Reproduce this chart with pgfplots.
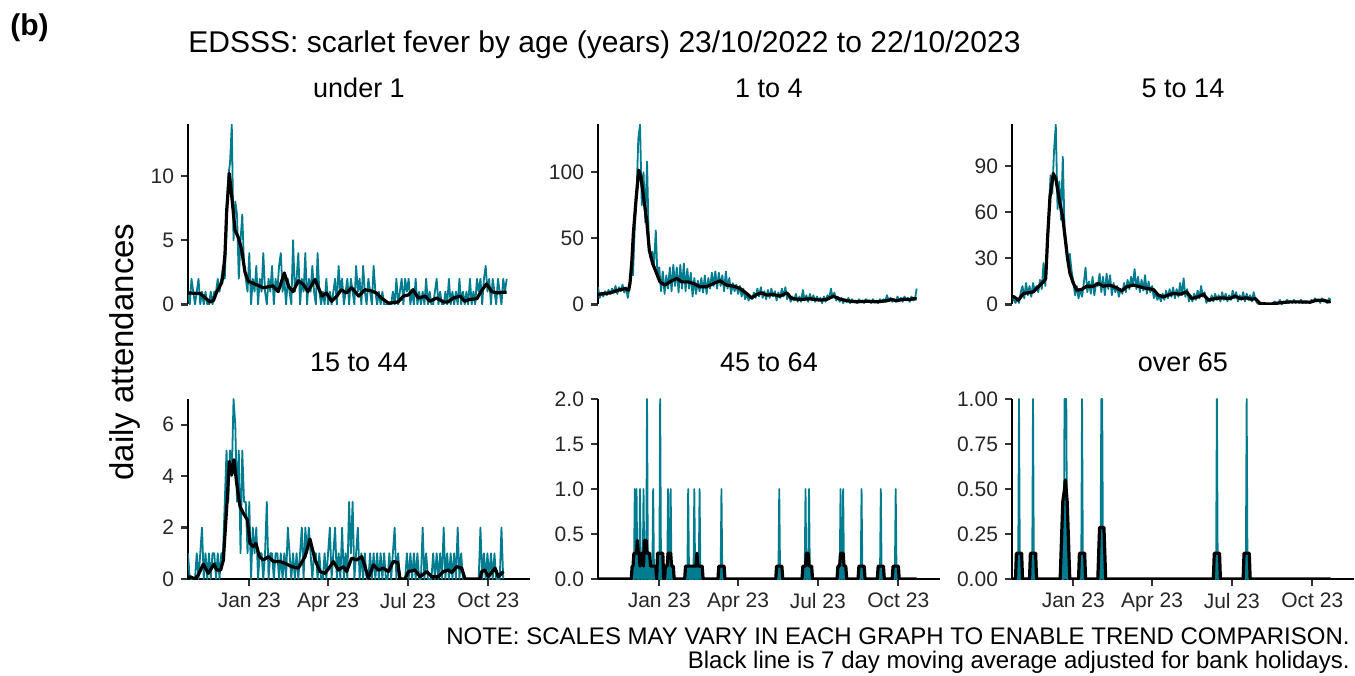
\documentclass[border=0pt]{standalone}
\usepackage{fontspec}
\setmainfont{Liberation Sans}
\usepackage{pgfplots}
\pgfplotsset{compat=1.18}
\definecolor{tealc}{HTML}{007C91}
\definecolor{tickc}{HTML}{333333}
\pgfplotsset{
  panel/.style={
    scale only axis, width=171pt, height=90pt,
    xmin=-70, xmax=320.6, ymin=0,
    axis y line*=left,
    axis line style={line width=1.4pt, black},
    tick style={line width=1.1pt, color=tickc},
    tick align=outside, major tick length=3.5pt,
    minor tick num=0,
    tick label style={font=\fontsize{10.5}{12}\selectfont, text=black!85},
    title style={font=\fontsize{13.5}{16}\selectfont, at={(0.5,1)}, anchor=center, yshift=12.25pt},
  },
  toprow/.style={panel, axis x line=none},
  botrow/.style={panel, axis x line*=bottom, xtick={0,90,181,273}, xticklabels={Jan 23,Apr 23,Jul 23,Oct 23}},
  tealline/.style={tealc, line width=0.9pt, line join=round},
  maline/.style={black, line width=1.6pt, line join=round},
}
\begin{document}
\begin{tikzpicture}
\useasboundingbox (0,0) rectangle (677.5pt,337.5pt);
\node[anchor=west, inner sep=0pt, font=\bfseries\fontsize{15}{18}\selectfont] at (5pt,323.5pt) {(b)};
\node[anchor=west, inner sep=0pt, font=\fontsize{15}{18}\selectfont] at (94pt,315pt) {EDSSS: scarlet fever by age (years) 23/10/2022 to 22/10/2023};
\node[rotate=90, inner sep=0pt, font=\fontsize{16.5}{20}\selectfont] at (62.5pt,161.5pt) {daily attendances};
\node[anchor=east, inner sep=0pt, font=\fontsize{12}{14}\selectfont] at (675pt,19.5pt) {NOTE: SCALES MAY VARY IN EACH GRAPH TO ENABLE TREND COMPARISON.};
\node[anchor=east, inner sep=0pt, font=\fontsize{12}{14}\selectfont] at (675pt,6.5pt) {Black line is 7 day moving average adjusted for bank holidays.};

% ---------------- under 1 ----------------
\begin{axis}[toprow, at={(94pt,185.25pt)}, anchor=south west, ymax=14,
  ytick={0,5,10}, yticklabels={0,5,10}, title={under 1}]
\addplot[tealline] coordinates {(-70,1)(-68,0)(-66,2)(-64,1)(-62,0)(-60,1)(-58,2)(-56,0)(-54,1)(-52,0)(-50,1)(-48,0)(-46,0)(-44,1)(-42,0)(-40,1)(-38,1)(-36,2)(-34,1)(-32,2)(-30,3)(-28,2)(-26,6)(-24,10)(-22,11)(-20,14)(-18,5)(-16,8)(-14,7)(-12,2)(-10,5)(-8,7)(-6,3)(-4,2)(-2,1)(0,4)(2,0)(4,2)(6,1)(8,3)(10,0)(12,2)(14,1)(16,4)(18,1)(20,0)(22,2)(24,1)(26,3)(28,0)(30,2)(32,1)(34,3)(36,4)(38,1)(40,2)(42,0)(44,2)(46,1)(48,0)(50,5)(52,1)(54,2)(56,4)(58,0)(60,2)(62,1)(64,4)(66,0)(68,2)(70,1)(72,3)(74,1)(76,0)(78,4)(80,1)(82,0)(84,1)(86,0)(88,2)(90,0)(92,1)(94,0)(96,1)(98,2)(100,0)(102,3)(104,1)(106,2)(108,0)(110,1)(112,2)(114,0)(116,2)(118,1)(120,0)(122,3)(124,1)(126,2)(128,0)(130,3)(132,1)(134,0)(136,2)(138,1)(140,0)(142,3)(144,1)(146,0)(148,1)(150,0)(152,1)(154,0)(156,0)(158,0)(160,0)(162,0)(164,1)(166,0)(168,2)(170,0)(172,1)(174,2)(176,0)(178,2)(180,1)(182,2)(184,0)(186,1)(188,0)(190,2)(192,0)(194,1)(196,0)(198,1)(200,0)(202,2)(204,0)(206,1)(208,0)(210,0)(212,1)(214,2)(216,0)(218,1)(220,0)(222,0)(224,1)(226,0)(228,2)(230,0)(232,1)(234,0)(236,1)(238,0)(240,2)(242,0)(244,1)(246,0)(248,1)(250,0)(252,2)(254,0)(256,1)(258,0)(260,2)(262,1)(264,2)(266,0)(268,2)(270,3)(272,1)(274,2)(276,0)(278,2)(280,1)(282,0)(284,2)(286,1)(288,0)(290,2)(292,1)(294,2)};
\addplot[maline] coordinates {(-70,0.9)(-56,0.85)(-45,0.2)(-41,0.3)(-37,1.0)(-31.5,1.7)(-29.6,2.45)(-27.7,4.0)(-25.8,7.3)(-22.8,10.2)(-20,8.4)(-16.3,5.8)(-12.5,5.2)(-8.7,4.25)(-4.9,2.5)(-1,1.8)(8,1.55)(16,1.3)(27,1.45)(33,1.0)(40,2.45)(45,1.4)(50,1.0)(56,1.85)(62,1.55)(67,1.0)(75,1.95)(83,0.65)(88,0.9)(94,0.25)(100,0.65)(105,1.15)(111,0.9)(117,1.3)(125,0.65)(132,1.15)(140,1.05)(145,0.9)(151,0.5)(159,0.1)(170,0.2)(176,0.65)(182,0.75)(187,1.15)(193,0.5)(201,0.65)(206,0.25)(214,0.5)(222,0.2)(227,0.2)(233,0.5)(241,0.65)(246,0.25)(252,0.4)(260,0.45)(265,1.05)(271,1.6)(277,1.0)(283,0.9)(289,0.95)(294,0.95)};
\end{axis}

% ---------------- 1 to 4 ----------------
\begin{axis}[toprow, at={(299pt,185.25pt)}, anchor=south west, ymax=136,
  ytick={0,50,100}, yticklabels={0,50,100}, title={1 to 4}]
\addplot[tealline] coordinates {(-70,13)(-68,5)(-66,9)(-64,6)(-62,10)(-60,7)(-58,11)(-56,8)(-54,12)(-52,9)(-50,14)(-48,8)(-46,13)(-44,10)(-42,15)(-40,9)(-38,13)(-36,5)(-34,14)(-32,26)(-30,22)(-28,60)(-26,82)(-24,125)(-22,136)(-20,75)(-18,100)(-16,62)(-14,108)(-12,48)(-10,35)(-8,40)(-6,30)(-4,56)(-2,20)(0,28)(2,10)(4,25)(6,8)(8,22)(10,12)(12,28)(14,10)(16,30)(18,14)(20,28)(22,9)(24,30)(26,12)(28,31)(30,10)(32,27)(34,12)(36,24)(38,6)(40,20)(42,8)(44,18)(46,10)(48,20)(50,9)(52,22)(54,8)(56,20)(58,12)(60,24)(62,14)(64,25)(66,12)(68,24)(70,14)(72,22)(74,10)(76,25)(78,12)(80,20)(82,8)(84,16)(86,10)(88,15)(90,8)(92,14)(94,6)(96,12)(98,4)(100,8)(102,3)(104,6)(106,4)(108,9)(110,5)(112,12)(114,6)(116,13)(118,5)(120,10)(122,4)(124,11)(126,5)(128,12)(130,6)(132,10)(134,3)(136,9)(138,5)(140,12)(142,6)(144,13)(146,4)(148,8)(150,2)(152,6)(154,3)(156,8)(158,2)(160,6)(162,2)(164,11)(166,3)(168,7)(170,2)(172,8)(174,3)(176,7)(178,2)(180,6)(182,3)(184,5)(186,1)(188,6)(190,2)(192,7)(194,4)(196,12)(198,5)(200,9)(202,3)(204,6)(206,2)(208,5)(210,1)(212,4)(214,2)(216,5)(218,1)(220,4)(222,2)(224,3)(226,1)(228,4)(230,2)(232,3)(234,1)(236,4)(238,2)(240,3)(242,1)(244,4)(246,2)(248,3)(250,1)(252,4)(254,2)(256,4)(258,2)(260,7)(262,3)(264,5)(266,2)(268,4)(270,2)(272,6)(274,3)(276,5)(278,2)(280,6)(282,3)(284,5)(286,2)(288,6)(290,3)(292,4)(294,12)};
\addplot[maline] coordinates {(-70,7.8)(-68,7.8)(-56,8.8)(-47,10.8)(-39,12)(-35,10.8)(-33.5,15.9)(-31.5,31)(-29.6,53.7)(-26.6,78.9)(-23.5,101.5)(-21,96.5)(-17.5,78.9)(-14.4,63.7)(-11.4,41)(-7.6,31)(-3,23.4)(0.8,17.1)(6.5,14.6)(12,17.1)(20,19.7)(25.6,17.1)(33,17.1)(39,15.9)(46.5,13.4)(54,13.4)(61.7,15.9)(69.3,17.9)(77,14.6)(84.6,13.9)(92.2,12.1)(99.8,8.3)(105.5,5)(111.2,7.6)(117,8.8)(122.7,7.1)(130.3,7.6)(137.9,6.3)(145.5,8.8)(151.2,4.5)(160.7,3.8)(172,4.3)(183.6,3.3)(191,3.8)(198.8,6.3)(204.5,4.5)(214,2.8)(225.4,2)(237,2.5)(248.3,2)(259.7,2.8)(265.4,3.8)(271,2.8)(278.8,4)(286.4,3.8)(291,4.5)(294,4.2)};
\end{axis}

% ---------------- 5 to 14 ----------------
\begin{axis}[toprow, at={(506pt,185.25pt)}, anchor=south west, ymax=117,
  ytick={0,30,60,90}, yticklabels={0,30,60,90}, title={5 to 14}]
\addplot[tealline] coordinates {(-70,6)(-68,3)(-66,1)(-64,4)(-62,1)(-60,8)(-58,12)(-56,4)(-54,14)(-52,6)(-50,12)(-48,5)(-46,14)(-44,9)(-42,12)(-40,8)(-38,16)(-36,10)(-34,27)(-32,12)(-30,30)(-28,60)(-26,84)(-24,72)(-22,100)(-20,117)(-18,62)(-16,80)(-14,55)(-12,96)(-10,50)(-8,40)(-6,25)(-4,33)(-2,22)(0,15)(2,6)(4,12)(6,4)(8,10)(10,5)(12,14)(14,24)(16,8)(18,15)(20,7)(22,18)(24,6)(26,14)(28,12)(30,20)(32,8)(34,18)(36,6)(38,20)(40,10)(42,19)(44,6)(46,14)(48,8)(50,12)(52,5)(54,10)(56,7)(58,14)(60,8)(62,16)(64,10)(66,18)(68,12)(70,23)(72,10)(74,18)(76,8)(78,16)(80,9)(82,19)(84,7)(86,15)(88,8)(90,12)(92,4)(94,8)(96,3)(98,6)(100,2)(102,7)(104,3)(106,9)(108,4)(110,10)(112,5)(114,11)(116,4)(118,10)(120,5)(122,14)(124,6)(126,17)(128,5)(130,10)(132,2)(134,6)(136,2)(138,7)(140,3)(142,9)(144,4)(146,12)(148,5)(150,8)(152,1)(154,4)(156,2)(158,6)(160,2)(162,7)(164,3)(166,6)(168,2)(170,8)(172,3)(174,7)(176,2)(178,6)(180,3)(182,9)(184,4)(186,8)(188,2)(190,6)(192,3)(194,8)(196,2)(198,7)(200,3)(202,6)(204,2)(206,8)(208,3)(210,1)(212,0)(214,1)(216,0)(218,1)(220,0)(222,0)(224,1)(226,0)(228,1)(230,2)(232,0)(234,1)(236,3)(238,0)(240,2)(242,1)(244,3)(246,1)(248,2)(250,1)(252,3)(254,1)(256,2)(258,1)(260,3)(262,1)(264,2)(266,1)(268,2)(270,1)(272,3)(274,2)(276,4)(278,2)(280,3)(282,1)(284,4)(286,2)(288,3)(290,1)(292,4)(294,3)};
\addplot[maline] coordinates {(-70,5)(-67.7,5)(-62.8,2.8)(-57,7.2)(-51.3,7.6)(-45.6,8.2)(-40,11.5)(-34.2,14.7)(-31.5,16.9)(-29.3,44)(-26.6,70)(-22.8,85.2)(-19.7,80.9)(-16,67.9)(-12.1,57)(-9.5,44)(-6.8,31)(-3.8,20.2)(0.1,13.7)(3.9,9.3)(9.6,9.8)(15.3,11.9)(22.9,11.9)(28.6,13.7)(34.3,11.9)(41.9,12.6)(49.6,10.8)(55.3,8.9)(61,11.5)(68.6,12.6)(76.2,11.5)(83.8,10.4)(91.4,9.8)(97.1,6.1)(102.9,5)(108.6,6.1)(114.3,7.2)(121.9,6.7)(129.5,8.2)(135.2,3.9)(142.8,5)(148.5,6.7)(154.3,2.8)(161.9,3.9)(169.5,4.3)(179,3.9)(184.7,5.4)(190.4,3.9)(198,4.3)(203.7,3.3)(207.6,3.9)(213.3,0.7)(224.7,0.2)(236.1,1.1)(247.5,1.7)(259,1.7)(270.4,1.5)(278,2.8)(285.6,2.8)(291.3,1.7)(294,2)};
\end{axis}

% ---------------- 15 to 44 ----------------
\begin{axis}[botrow, at={(94pt,48pt)}, anchor=south west, ymax=7,
  ytick={0,2,4,6}, yticklabels={0,2,4,6}, title={15 to 44}]
\addplot[tealline] coordinates {(-70,1)(-68,0)(-66,0)(-64,0)(-62,0)(-60,1)(-58,0)(-56,1)(-54,2)(-52,0)(-50,1)(-48,0)(-46,1)(-44,0)(-42,1)(-40,1)(-38,0)(-36,1)(-34,0)(-32,1)(-30,1)(-28,3)(-26,5)(-24,3)(-22,5)(-20,4)(-18,7)(-16,6)(-14,3)(-12,5)(-10,1)(-8,5)(-6,3)(-4,3)(-2,1)(0,3)(2,0)(4,2)(6,1)(8,2)(10,0)(12,1)(14,1)(16,0)(18,1)(20,3)(22,0)(24,1)(26,1)(28,0)(30,1)(32,1)(34,0)(36,1)(38,0)(40,1)(42,0)(44,2)(46,1)(48,0)(50,1)(52,0)(54,1)(56,0)(58,1)(60,2)(62,0)(64,2)(66,1)(68,2)(70,1)(72,0)(74,1)(76,1)(78,0)(80,1)(82,0)(84,0)(86,1)(88,0)(90,1)(92,2)(94,0)(96,1)(98,2)(100,0)(102,1)(104,0)(106,2)(108,0)(110,1)(112,0)(114,3)(116,1)(118,3)(120,0)(122,1)(124,2)(126,0)(128,1)(130,0)(132,1)(134,0)(136,0)(138,1)(140,0)(142,1)(144,0)(146,1)(148,0)(150,1)(152,0)(154,1)(156,0)(158,0)(160,1)(162,0)(164,1)(166,2)(168,0)(170,1)(172,0)(174,0)(176,0)(178,0)(180,1)(182,0)(184,1)(186,0)(188,1)(190,0)(192,1)(194,0)(196,0)(198,2)(200,0)(202,1)(204,0)(206,0)(208,0)(210,1)(212,0)(214,1)(216,0)(218,1)(220,0)(222,2)(224,0)(226,1)(228,0)(230,1)(232,0)(234,1)(236,0)(238,2)(240,0)(242,1)(244,0)(246,0)(248,0)(250,0)(252,0)(254,0)(256,0)(258,0)(260,0)(262,0)(264,2)(266,0)(268,1)(270,0)(272,1)(274,0)(276,1)(278,0)(280,1)(282,0)(284,0)(286,0)(288,2)(290,0)};
\addplot[maline] coordinates {(-70,0)(-67.7,0.09)(-62,0)(-58.2,0.16)(-52.5,0.58)(-46.8,0.22)(-40.3,0.58)(-37.3,0.35)(-32.7,0.35)(-29.6,0.74)(-25.8,2.8)(-22.8,4.57)(-20.1,4.05)(-17.5,4.64)(-14.4,3.73)(-10.6,2.82)(-6.8,2.56)(-2.2,2.3)(0.8,1.39)(4.6,1.26)(7.7,1.39)(11.5,0.87)(16,0.74)(21.8,0.87)(27.5,0.68)(35.1,0.68)(40.8,0.61)(48.4,0.48)(56,0.42)(63.6,0.87)(69.3,1.55)(75.1,0.74)(80.8,0.29)(86.5,0.22)(92.2,0.48)(96,0.68)(101.7,0.35)(107.4,0.48)(111.2,0.29)(116.9,0.81)(122.7,0.74)(128.4,0.87)(132.2,0.48)(136,0.03)(141.7,0.55)(147.4,0.35)(153.1,0.42)(158.8,0.29)(164.5,0.68)(169.5,0.64)(172.1,0)(177.9,0)(181.7,0.29)(189.3,0.35)(195,0.09)(202.6,0.29)(208.3,0.09)(215.9,0.09)(221.6,0.29)(227.4,0.35)(231.2,0.25)(236.9,0.48)(242.6,0.42)(246.4,0)(263.5,0)(265.4,0.29)(269.2,0.35)(273,0.09)(280.7,0.42)(284.5,0.09)(290.2,0.29)};
\end{axis}

% ---------------- 45 to 64 ----------------
\begin{axis}[botrow, at={(299pt,48pt)}, anchor=south west, ymax=2,
  ytick={0,0.5,1,1.5,2}, yticklabels={0.0,0.5,1.0,1.5,2.0}, title={45 to 64}]
\addplot[fill=tealc, draw=none] coordinates {(-70,0)(-32,0)(-31,0.143)(-30,0.143)(-29,0.286)(-26,0.286)(-25,0.429)(-24,0.286)(-23,0.286)(-22,0.143)(-21,0.286)(-19,0.286)(-18,0.143)(-17,0.429)(-15,0.429)(-14,0.286)(-11,0.286)(-10,0.143)(-4,0.143)(-3,0)(-2,0.286)(4,0.286)(5,0)(6,0)(7,0.143)(9,0.143)(10,0.286)(13,0.286)(14,0.143)(16,0.143)(17,0)(29,0)(30,0.143)(42,0.143)(43,0.286)(44,0.143)(49,0.143)(50,0)(67,0)(68,0.143)(74,0.143)(75,0)(133,0)(134,0.143)(140,0.143)(141,0)(163,0)(164,0.143)(167,0.143)(168,0.286)(170,0.286)(171,0.143)(174,0.143)(175,0)(203,0)(204,0.143)(206,0.143)(207,0.286)(210,0.286)(211,0.143)(213,0.143)(214,0)(227,0)(228,0.143)(234,0.143)(235,0)(249,0)(250,0.143)(256,0.143)(257,0)(266,0)(267,0.143)(273,0.143)(274,0)(294,0)} \closedcycle;
\addplot[tealline] coordinates {(-70,0)(-29,0)(-28,1)(-27,0)(-26,1)(-25,0)(-23,0)(-22,1)(-21,0)(-19,0)(-18,1)(-17,0)(-15,0)(-14,2)(-13,0)(-8,0)(-7,1)(-6,0)(0,0)(1,2)(2,0)(9,0)(10,1)(11,0)(12,0)(13,1)(14,0)(32,0)(33,1)(34,0)(39,0)(40,1)(41,0)(45,0)(46,1)(47,0)(70,0)(71,1)(72,0)(136,0)(137,1)(138,0)(166,0)(167,1)(168,0)(170,0)(171,1)(172,0)(206,0)(207,1)(208,0)(209,0)(210,1)(211,0)(230,0)(231,1)(232,0)(252,0)(253,1)(254,0)(269,0)(270,1)(271,0)(294,0)};
\addplot[maline] coordinates {(-70,0)(-32,0)(-31,0.143)(-30,0.143)(-29,0.286)(-26,0.286)(-25,0.429)(-24,0.286)(-23,0.286)(-22,0.143)(-21,0.286)(-19,0.286)(-18,0.143)(-17,0.429)(-15,0.429)(-14,0.286)(-11,0.286)(-10,0.143)(-4,0.143)(-3,0)(-2,0.286)(4,0.286)(5,0)(6,0)(7,0.143)(9,0.143)(10,0.286)(13,0.286)(14,0.143)(16,0.143)(17,0)(29,0)(30,0.143)(42,0.143)(43,0.286)(44,0.143)(49,0.143)(50,0)(67,0)(68,0.143)(74,0.143)(75,0)(133,0)(134,0.143)(140,0.143)(141,0)(163,0)(164,0.143)(167,0.143)(168,0.286)(170,0.286)(171,0.143)(174,0.143)(175,0)(203,0)(204,0.143)(206,0.143)(207,0.286)(210,0.286)(211,0.143)(213,0.143)(214,0)(227,0)(228,0.143)(234,0.143)(235,0)(249,0)(250,0.143)(256,0.143)(257,0)(266,0)(267,0.143)(273,0.143)(274,0)(294,0)};
\end{axis}

% ---------------- over 65 ----------------
\begin{axis}[botrow, at={(506pt,48pt)}, anchor=south west, ymax=1,
  ytick={0,0.25,0.5,0.75,1}, yticklabels={0.00,0.25,0.50,0.75,1.00}, title={over 65}]
\addplot[fill=tealc, draw=none] coordinates {(-70,0)(-66,0)(-65,0.143)(-59,0.143)(-58,0)(-50,0)(-49,0.143)(-43,0.143)(-42,0)(-15,0)(-14,0.143)(-12,0.43)(-10,0.5)(-9,0.55)(-7,0.43)(-6,0.29)(-5,0.143)(-4,0)(6,0)(7,0.143)(13,0.143)(14,0)(28,0)(29,0.143)(30,0.286)(35,0.286)(36,0.143)(37,0)(160,0)(161,0.143)(167,0.143)(168,0)(194,0)(195,0.143)(201,0.143)(202,0)(294,0)} \closedcycle;
\addplot[tealline] coordinates {(-70,0)(-63,0)(-62,1)(-61,0)(-47,0)(-46,1)(-45,0)(-11,0)(-10,1)(-9,1)(-8,1)(-7,0)(9,0)(10,1)(11,0)(31,0)(32,1)(33,1)(34,0)(163,0)(164,1)(165,0)(197,0)(198,1)(199,0)(294,0)};
\addplot[maline] coordinates {(-70,0)(-66,0)(-65,0.143)(-59,0.143)(-58,0)(-50,0)(-49,0.143)(-43,0.143)(-42,0)(-15,0)(-14,0.143)(-12,0.43)(-10,0.5)(-9,0.55)(-7,0.43)(-6,0.29)(-5,0.143)(-4,0)(6,0)(7,0.143)(13,0.143)(14,0)(28,0)(29,0.143)(30,0.286)(35,0.286)(36,0.143)(37,0)(160,0)(161,0.143)(167,0.143)(168,0)(194,0)(195,0.143)(201,0.143)(202,0)(294,0)};
\end{axis}
\end{tikzpicture}
\end{document}
